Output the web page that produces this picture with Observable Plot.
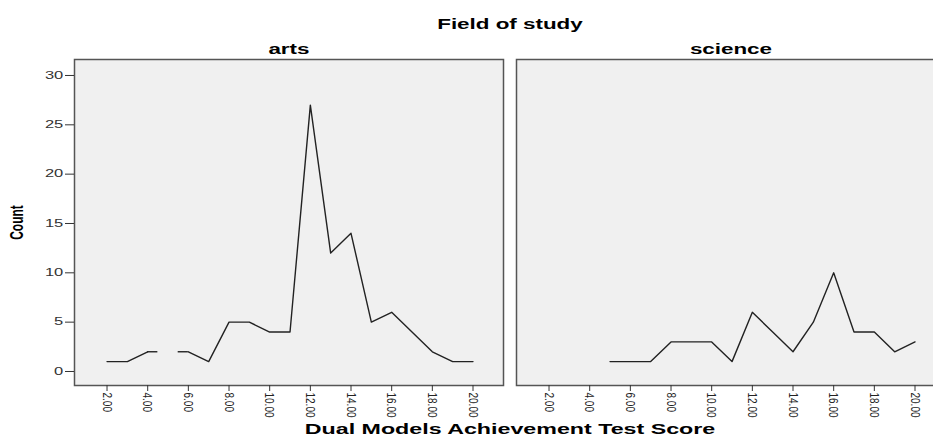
<!DOCTYPE html>
<html>
<head>
<meta charset="utf-8">
<script src="https://cdn.jsdelivr.net/npm/d3@7"></script>
<script src="https://cdn.jsdelivr.net/npm/@observablehq/plot@0.6"></script>
<style>
  html, body { margin: 0; padding: 0; background: #fff; overflow: hidden; width: 933px; height: 439px; }
  #c { width: 933px; height: 439px; overflow: hidden; }
</style>
</head>
<body>
<div id="c"></div>
<script>
// ---- data ----
const fields = ["arts", "science"];
const artsScores = [2, 3, 4, 5, 6, 7, 8, 9, 10, 11, 12, 13, 14, 15, 16, 17, 18, 19, 20];
const artsCounts = [1, 1, 2, null, 2, 1, 5, 5, 4, 4, 27, 12, 14, 5, 6, 4, 2, 1, 1];
const scienceScores = [5, 6, 7, 8, 9, 10, 11, 12, 13, 14, 15, 16, 17, 18, 19, 20];
const scienceCounts = [1, 1, 1, 3, 3, 3, 1, 6, 4, 2, 5, 10, 4, 4, 2, 3];
const xTicks = [2, 4, 6, 8, 10, 12, 14, 16, 18, 20];
const yTicks = [0, 5, 10, 15, 20, 25, 30];

function toRows(field, scores, counts) {
  return scores.map((s, i) => ({field, score: s, count: counts[i]}));
}
const rows = [
  ...toRows("arts", artsScores, artsCounts),
  ...toRows("science", scienceScores, scienceCounts)
];

// half-width stubs beside a missing category (as the source software draws them)
const stubs = [];
for (const f of fields) {
  const r = rows.filter(d => d.field === f);
  r.forEach((d, i) => {
    if (d.count == null) return;
    if (i > 0 && r[i - 1].count == null) stubs.push({field: f, count: d.count, x1: d.score - 0.5, x2: d.score});
    if (i < r.length - 1 && r[i + 1].count == null) stubs.push({field: f, count: d.count, x1: d.score, x2: d.score + 0.5});
  });
}

const chart = Plot.plot({
  width: 945,
  height: 439,
  marginLeft: 74,
  marginRight: 0,
  marginTop: 59,
  marginBottom: 54,
  style: {fontFamily: "'Liberation Sans', Arial, sans-serif", background: "#fff", color: "#222"},
  fx: {domain: fields, paddingInner: 13 / 442, paddingOuter: 0},
  x: {domain: [0.4, 21.5]},
  y: {domain: [-1.42, 31.62]},
  marks: [
    Plot.frame({fill: "#f0f0f0", stroke: "none"}),
    Plot.line(rows, {x: "score", y: "count", fx: "field", z: "field", stroke: "#222", strokeWidth: 1.4}),
    Plot.ruleY(stubs, {y: "count", x1: "x1", x2: "x2", fx: "field", stroke: "#222", strokeWidth: 1.4}),
    Plot.frame({stroke: "#555", strokeWidth: 1.5}),
    Plot.axisY({ticks: yTicks, tickSize: 9, tickPadding: 2, fontSize: 10, label: "Count", labelAnchor: "center", labelOffset: 62, labelArrow: false, stroke: "#333"}),
    Plot.axisX({ticks: xTicks, tickFormat: d3.format(".2f"), tickSize: 6, tickPadding: 1, tickRotate: 90, fontSize: 10, label: null, stroke: "#333"}),
    Plot.axisFx({anchor: "top", tickSize: 0, tickPadding: 6, fontSize: 14, label: "Field of study", labelAnchor: "center", labelOffset: 40, labelArrow: false}),
    Plot.axisFx({anchor: "bottom", ticks: [], tickSize: 0, label: "Dual Models Achievement Test Score", labelAnchor: "center", labelOffset: 48, labelArrow: false})
  ]
});
chart.style.maxWidth = "none";
chart.style.height = "439px";
chart.style.width = "945px";
document.getElementById("c").append(chart);

// ---- typographic styling: the reference glyphs are horizontally stretched ----
const titleTexts = {
  "Field of study": {size: 14, k: 1.6},
  "arts": {size: 14, k: 1.6},
  "science": {size: 14, k: 1.6},
  "Dual Models Achievement Test Score": {size: 15, k: 1.55},
  "Count": {size: 12, k: 1.5}
};
function stretch(el, k) {
  const bb = el.getBBox();
  const tl = el.transform.baseVal.consolidate();
  const m = tl ? tl.matrix : {a: 1, b: 0, c: 0, d: 1, e: 0, f: 0};
  const rotated = Math.abs(m.b) > 1e-6;
  let lx = bb.x + bb.width / 2;
  const ly = bb.y + bb.height / 2;
  if (!rotated) {
    const anchor = getComputedStyle(el).textAnchor;
    if (anchor === "end") lx = bb.x + bb.width;
    else if (anchor === "start") lx = bb.x;
  }
  const px = m.a * lx + m.c * ly + m.e;
  const old = el.getAttribute("transform") || "";
  el.setAttribute("transform", `translate(${px},0) scale(${k},1) translate(${-px},0) ${old}`);
}
chart.querySelectorAll("text").forEach(el => {
  const t = el.textContent.trim();
  if (titleTexts[t]) {
    el.setAttribute("font-weight", "bold");
    el.style.fontWeight = "bold";
    el.style.fontSize = titleTexts[t].size + "px";
    el.setAttribute("fill", "#000");
    stretch(el, titleTexts[t].k);
  } else if (/^\d+$/.test(t)) {
    el.setAttribute("fill", "#333");
    stretch(el, 1.65);
  } else {
    el.setAttribute("fill", "#222");
    stretch(el, 1.3);
  }
});
</script>
</body>
</html>
